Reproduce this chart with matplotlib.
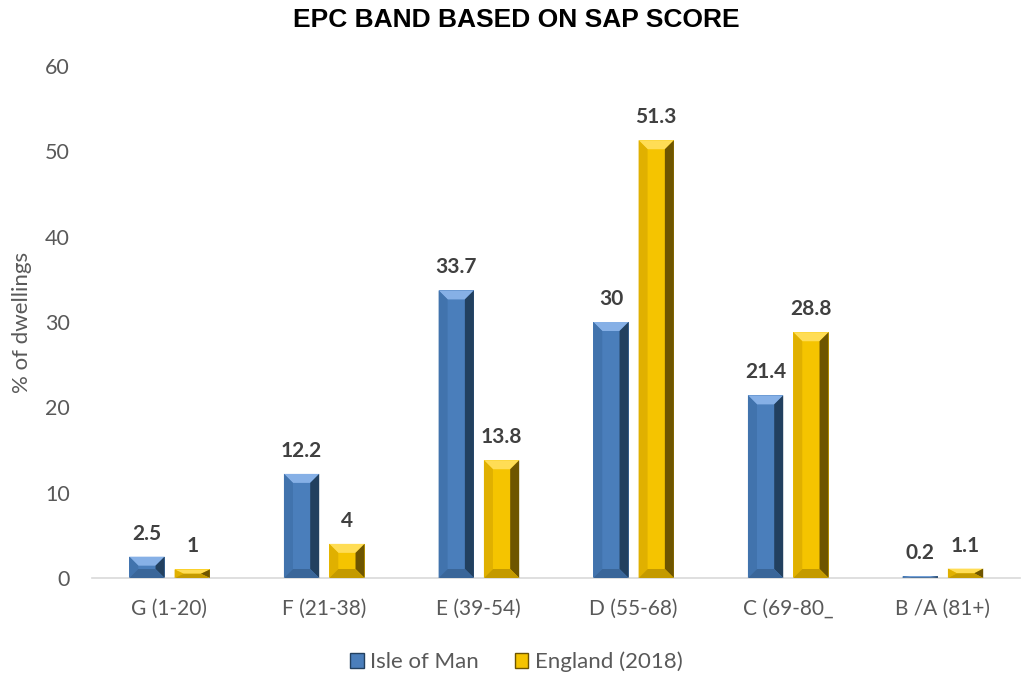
import numpy as np
import matplotlib.pyplot as plt
from matplotlib.patches import Polygon, Rectangle

plt.rcParams['font.family'] = ['Lato', 'DejaVu Sans']

categories = ['G (1-20)', 'F (21-38)', 'E (39-54)', 'D (55-68)', 'C (69-80_', 'B /A (81+)']
isle_of_man = [2.5, 12.2, 33.7, 30, 21.4, 0.2]
england = [1, 4, 13.8, 51.3, 28.8, 1.1]
series_names = ['Isle of Man', 'England (2018)']

W, H = 1033, 676
fig = plt.figure(figsize=(W / 100, H / 100), dpi=100)
ax = fig.add_axes([92 / W, 1 - 578 / H, (1020 - 92) / W, (578 - 66) / H])

x = np.arange(len(categories))
bw = 0.228
offsets = [-0.145, 0.148]
xlim = (-0.5, len(categories) - 0.5)
ylim = (0, 60)
ax.set_xlim(*xlim)
ax.set_ylim(*ylim)

# pixel -> data scale for the bevel
px_x = (xlim[1] - xlim[0]) / (1020 - 92)
px_y = (ylim[1] - ylim[0]) / (578 - 66)
bev = 9

styles = [
    dict(face='#4a7ebb', top='#86b0e6', right='#22405f', left='#4173ad', bottom='#3a6699'),
    dict(face='#f5c400', top='#ffdd55', right='#6e5500', left='#e0b000', bottom='#c49a00'),
]


def bevel_bar(xc, h, st):
    x0, x1 = xc - bw / 2, xc + bw / 2
    dx = bev * px_x
    dy = min(bev * px_y, h / 2)
    ax.add_patch(Rectangle((x0, 0), x1 - x0, h, facecolor=st['face'], edgecolor='none', zorder=2))
    # top
    ax.add_patch(Polygon([(x0, h), (x1, h), (x1 - dx, h - dy), (x0 + dx, h - dy)],
                         facecolor=st['top'], edgecolor='none', zorder=3))
    # right
    ax.add_patch(Polygon([(x1, h), (x1 - dx, h - dy), (x1 - dx, dy), (x1, 0)],
                         facecolor=st['right'], edgecolor='none', zorder=3))
    # left
    ax.add_patch(Polygon([(x0, h), (x0 + dx, h - dy), (x0 + dx, dy), (x0, 0)],
                         facecolor=st['left'], edgecolor='none', zorder=3))
    # bottom
    ax.add_patch(Polygon([(x0, 0), (x1, 0), (x1 - dx, dy), (x0 + dx, dy)],
                         facecolor=st['bottom'], edgecolor='none', zorder=3))


for vals, off, st in zip([isle_of_man, england], offsets, styles):
    for xi, v in zip(x, vals):
        bevel_bar(xi + off, v, st)
        ax.text(xi + off, v + 2.7, f'{v:g}', ha='center', va='center',
                fontsize=15, fontweight='bold', color='#404040')

ax.set_xticks(x)
ax.set_xticklabels(categories, fontsize=15, color='#595959')
ax.set_yticks(np.arange(0, 61, 10))
ax.tick_params(axis='y', labelsize=15.5, labelcolor='#595959', length=0, pad=16)
ax.tick_params(axis='x', length=0, pad=15)
for s in ['top', 'right', 'left']:
    ax.spines[s].set_visible(False)
ax.spines['bottom'].set_color('#d9d9d9')
ax.spines['bottom'].set_linewidth(1.2)
ax.set_ylabel('% of dwellings', fontsize=16, color='#595959')
ax.yaxis.set_label_coords((32 - 92) / 928, 0.5)

fig.text(0.5, 1 - 20 / H, 'EPC BAND BASED ON SAP SCORE', ha='center', va='center',
         fontsize=19, fontweight='bold', family='Liberation Sans', color='black')

handles = [Rectangle((0, 0), 1, 1, facecolor=st['face'], edgecolor=st['right']) for st in styles]
fig.legend(handles, series_names, loc='center', bbox_to_anchor=(0.5, 1 - 662 / H), ncol=2,
           frameon=False, fontsize=16, labelcolor='#595959', handlelength=0.6, handleheight=0.6,
           handletextpad=0.3, columnspacing=1.6)

fig.savefig('out.png', dpi=100)
